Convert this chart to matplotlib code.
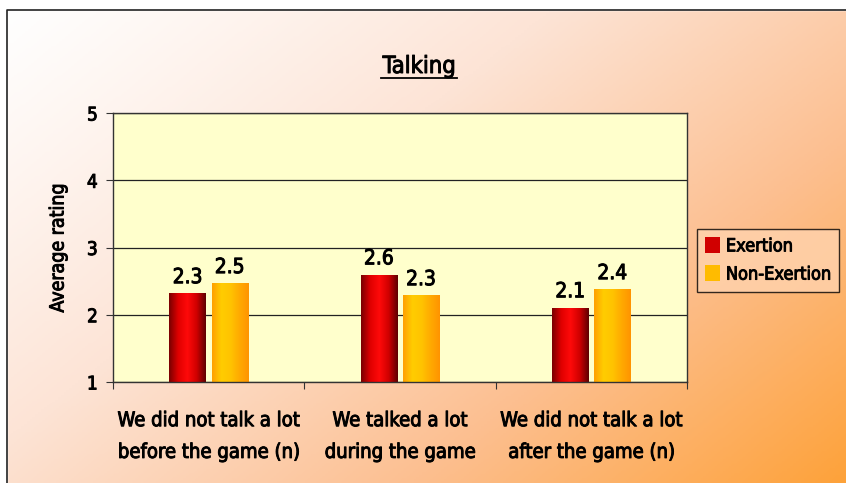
import numpy as np
import matplotlib.pyplot as plt
import matplotlib.patheffects as pe
from matplotlib.colors import LinearSegmentedColormap
from matplotlib.patches import Rectangle, Patch

plt.rcParams['font.family'] = ['DejaVu Sans']
plt.rcParams['font.stretch'] = 'condensed'

# thin outline to give the text a medium weight
heavy = [pe.withStroke(linewidth=0.7, foreground='black')]

categories = ['We did not talk a lot\nbefore the game (n)',
              'We talked a lot\nduring the game',
              'We did not talk a lot\nafter the game (n)']
exertion = [2.31, 2.59, 2.10]
non_exertion = [2.46, 2.28, 2.37]
series_names = ['Exertion', 'Non-Exertion']
yticks = [1, 2, 3, 4, 5]

fig = plt.figure(figsize=(8.46, 4.83), dpi=100)

# background: white top-left fading to orange bottom-right
bg = fig.add_axes([0, 0, 1, 1], zorder=-10)
bg.axis('off')
xx, yy = np.meshgrid(np.linspace(0, 1, 300), np.linspace(0, 1, 200))
t = np.clip((xx * 0.58 + yy * 0.42), 0, 1) ** 1.15
bg_cmap = LinearSegmentedColormap.from_list('bgc', ['#ffffff', '#fde4d6', '#fcbf90', '#fea23a'])
bg.imshow(t, cmap=bg_cmap, extent=[0, 1, 0, 1], origin='upper', aspect='auto')
bg.set_xlim(0, 1)
bg.set_ylim(0, 1)
# white margin and chart border
bg.add_patch(Rectangle((0, 1 - 10 / 483), 1, 10 / 483, color='white', zorder=2))
bg.add_patch(Rectangle((0, 0), 7 / 846, 1, color='white', zorder=2))
bg.plot([7 / 846, 7 / 846, 1], [0, 1 - 10 / 483, 1 - 10 / 483], color='#222222', lw=1.2, zorder=3)

ax = fig.add_axes([113 / 846, 1 - 382 / 483, 574 / 846, 269 / 483])
ax.set_facecolor('#ffffcc')
ax.set_yticks(yticks)
ax.yaxis.grid(True, color='#222222', lw=0.9)
ax.set_axisbelow(True)
for s in ax.spines.values():
    s.set_color('#333333')
    s.set_linewidth(1.0)

x = np.arange(len(categories))
w = 0.19
red_cmap = LinearSegmentedColormap.from_list('r', ['#7a0000', '#e00000', '#ff0a0a', '#d00000', '#600000'])
yel_cmap = LinearSegmentedColormap.from_list('y', ['#ffa000', '#ffcc00', '#ffc400', '#ffaa00', '#ff9400'])
grad = np.linspace(0, 1, 100).reshape(1, -1)

for vals, off, cmap, name in [(exertion, -0.11, red_cmap, series_names[0]),
                              (non_exertion, 0.11, yel_cmap, series_names[1])]:
    bars = ax.bar(x + off, np.array(vals) - 1, w, bottom=1, color='none', edgecolor='none', label=name)
    for b, v in zip(bars, vals):
        x0, y0 = b.get_x(), b.get_y()
        ax.imshow(grad, cmap=cmap, aspect='auto', zorder=2,
                  extent=[x0, x0 + b.get_width(), y0, y0 + b.get_height()])
        ax.text(b.get_x() + b.get_width() / 2, v + 0.1, f'{v:.1f}', ha='center', va='bottom',
                fontsize=15, color='black', path_effects=heavy)
ax.set_xlim(-0.5, 2.5)
ax.set_ylim(1, 5)

ax.set_xticks([-0.5, 0.5, 1.5, 2.5])
ax.set_xticklabels([])
ax.set_xticks(x, minor=True)
ax.set_xticklabels(categories, minor=True, fontsize=14.5, linespacing=1.85)
ax.tick_params(axis='x', which='minor', length=0, pad=21)
ax.tick_params(axis='x', which='major', length=5, direction='out', color='#333333')
ax.tick_params(axis='y', labelsize=13.5, length=5, color='#333333', pad=6)
for lbl in ax.get_xticklabels(minor=True) + ax.get_yticklabels():
    lbl.set_path_effects(heavy)
ax.set_ylabel('Average rating', fontsize=14, labelpad=14, path_effects=heavy)

fig.text(419 / 846, 1 - 66 / 483, 'Talking', ha='center', va='center', fontsize=17,
         path_effects=heavy)
fig.add_artist(plt.Line2D([381 / 846, 457 / 846], [1 - 78 / 483] * 2, color='black', lw=1.3))

# legend with colour squares
handles = [Patch(facecolor='#d00000', edgecolor='none'), Patch(facecolor='#ffbb00', edgecolor='none')]
leg = fig.legend(handles, series_names, loc='upper left',
                 bbox_to_anchor=(697 / 846, 1 - 229 / 483), fontsize=13,
                 frameon=True, fancybox=False, handlelength=0.8, handleheight=1.0,
                 handletextpad=0.35, borderpad=0.45, labelspacing=0.55, borderaxespad=0)
for txt in leg.get_texts():
    txt.set_path_effects(heavy)
leg.get_frame().set_facecolor('#ffd3ae')
leg.get_frame().set_edgecolor('black')
leg.get_frame().set_linewidth(1.0)

fig.savefig('out.png', dpi=100)
